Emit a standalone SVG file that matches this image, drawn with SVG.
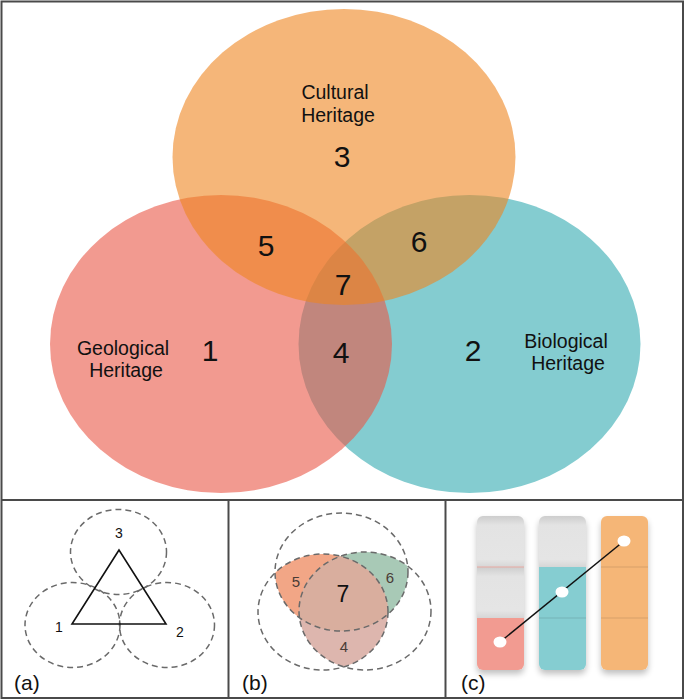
<svg xmlns="http://www.w3.org/2000/svg" width="685" height="700" viewBox="0 0 685 700">
<style>
.t{font-family:"Liberation Sans",Arial,sans-serif;fill:#111;text-anchor:middle}
.lab{font-size:19.5px}
.num{font-size:30px}
.sm{font-size:14px}
.pl{font-size:21px;text-anchor:start}
.bn{font-family:"Liberation Sans",Arial,sans-serif;text-anchor:middle;fill:#4a3c36}
.dash{fill:none;stroke:#6a6a6a;stroke-width:1.5;stroke-dasharray:6 4}
.frame{fill:none;stroke:#4a4a4a;stroke-width:2}
.div{stroke:#000;stroke-opacity:0.12;stroke-width:1}
</style>
<defs>
<clipPath id="cT"><ellipse cx="341.5" cy="572" rx="66.5" ry="59"/></clipPath>
<clipPath id="cL"><ellipse cx="323" cy="612" rx="65" ry="58"/></clipPath>
<clipPath id="cR"><ellipse cx="365" cy="611" rx="66" ry="59"/></clipPath>
<clipPath id="b1"><rect x="477" y="516" width="47" height="154" rx="6"/></clipPath>
<clipPath id="b2"><rect x="539" y="516" width="47" height="154" rx="6"/></clipPath>
<clipPath id="b3"><rect x="601" y="516" width="47" height="154" rx="6"/></clipPath>
<linearGradient id="gray" x1="0" y1="0" x2="0" y2="1">
<stop offset="0" stop-color="#cdcdcd"/>
<stop offset="0.18" stop-color="#e3e3e3"/>
<stop offset="0.85" stop-color="#e5e5e5"/>
<stop offset="1" stop-color="#d6d6d6"/>
</linearGradient>
<filter id="sh" x="-30%" y="-10%" width="160%" height="130%">
<feGaussianBlur in="SourceAlpha" stdDeviation="3"/>
<feOffset dy="4"/>
<feComponentTransfer><feFuncA type="linear" slope="0.25"/></feComponentTransfer>
<feMerge><feMergeNode/><feMergeNode in="SourceGraphic"/></feMerge>
</filter>
</defs>

<rect width="685" height="700" fill="#fff"/>

<g id="venn-main">
<g id="biological"><ellipse cx="469.5" cy="344" rx="171" ry="149" fill="#84ccd0"/></g>
<g id="geological"><ellipse cx="221" cy="344" rx="171" ry="149" fill="rgb(233,87,70)" fill-opacity="0.6"/></g>
<g id="cultural"><ellipse cx="344" cy="157" rx="171.5" ry="148" fill="rgb(238,133,32)" fill-opacity="0.6"/></g>
<g id="labels">
<text class="t lab" x="335" y="99">Cultural</text>
<text class="t lab" x="338" y="122">Heritage</text>
<text class="t lab" x="123" y="355">Geological</text>
<text class="t lab" x="126" y="377">Heritage</text>
<text class="t lab" x="566" y="348">Biological</text>
<text class="t lab" x="568" y="370">Heritage</text>
<text class="t num" x="342" y="167">3</text>
<text class="t num" x="266" y="256">5</text>
<text class="t num" x="419" y="252">6</text>
<text class="t num" x="343" y="295">7</text>
<text class="t num" x="210" y="361">1</text>
<text class="t num" x="341" y="363">4</text>
<text class="t num" x="473" y="361">2</text>
</g>
</g>

<g id="panel-a">
<ellipse class="dash" cx="118.5" cy="552" rx="48" ry="42.5"/>
<ellipse class="dash" cx="72.5" cy="625" rx="47.5" ry="42.5"/>
<ellipse class="dash" cx="167" cy="625" rx="47.5" ry="42.5"/>
<polygon points="119,550 72,624 166,624" fill="none" stroke="#111" stroke-width="1.6"/>
<text class="t sm" x="119" y="538">3</text>
<text class="t sm" x="59" y="632">1</text>
<text class="t sm" x="180" y="637">2</text>
<text class="t pl" x="14" y="690">(a)</text>
</g>

<g id="panel-b">
<g clip-path="url(#cT)"><ellipse cx="323" cy="612" rx="65" ry="58" fill="#f2a686"/></g>
<g clip-path="url(#cT)"><ellipse cx="365" cy="611" rx="66" ry="59" fill="#a8c9b6"/></g>
<g clip-path="url(#cL)"><ellipse cx="365" cy="611" rx="66" ry="59" fill="#ddb6ae"/></g>
<g clip-path="url(#cT)"><g clip-path="url(#cL)"><ellipse cx="365" cy="611" rx="66" ry="59" fill="#d9ae9e"/></g></g>
<ellipse class="dash" cx="341.5" cy="572" rx="66.5" ry="59"/>
<ellipse class="dash" cx="323" cy="612" rx="65" ry="58"/>
<ellipse class="dash" cx="365" cy="611" rx="66" ry="59"/>
<text class="bn" font-size="15" x="296" y="587">5</text>
<text class="bn" font-size="15" x="390" y="583">6</text>
<text class="bn" font-size="15" x="344" y="652">4</text>
<text class="t" font-size="23" x="343" y="602">7</text>
<text class="t pl" x="242" y="690">(b)</text>
</g>

<g id="panel-c">
<g filter="url(#sh)">
<g clip-path="url(#b1)">
<rect x="477" y="516" width="47" height="51" fill="url(#gray)"/>
<rect x="477" y="567" width="47" height="51" fill="url(#gray)"/>
<rect x="477" y="618" width="47" height="52" fill="#f29b91"/>
<line x1="477" y1="567" x2="524" y2="567" stroke="#e8a9a2" stroke-width="1"/>
</g>
<g clip-path="url(#b2)">
<rect x="539" y="516" width="47" height="51" fill="url(#gray)"/>
<rect x="539" y="567" width="47" height="103" fill="#85cdd1"/>
<line class="div" x1="539" y1="618" x2="586" y2="618"/>
</g>
<g clip-path="url(#b3)">
<rect x="601" y="516" width="47" height="154" fill="#f5b677"/>
<line class="div" x1="601" y1="567" x2="648" y2="567"/>
<line class="div" x1="601" y1="618" x2="648" y2="618"/>
</g>
</g>
<line x1="500" y1="642" x2="624" y2="541" stroke="#111" stroke-width="1.5"/>
<ellipse cx="500" cy="642" rx="6.5" ry="5.5" fill="#fff"/>
<ellipse cx="562" cy="592" rx="6.5" ry="5.5" fill="#fff"/>
<ellipse cx="624" cy="541" rx="6.5" ry="5.5" fill="#fff"/>
<text class="t pl" x="461" y="690">(c)</text>
</g>

<g id="frame">
<rect class="frame" x="1.5" y="1.5" width="681.5" height="696.5"/>
<line class="frame" x1="1.5" y1="500" x2="683" y2="500"/>
<line class="frame" x1="228.5" y1="500" x2="228.5" y2="698"/>
<line class="frame" x1="445.5" y1="500" x2="445.5" y2="698"/>
</g>
</svg>
